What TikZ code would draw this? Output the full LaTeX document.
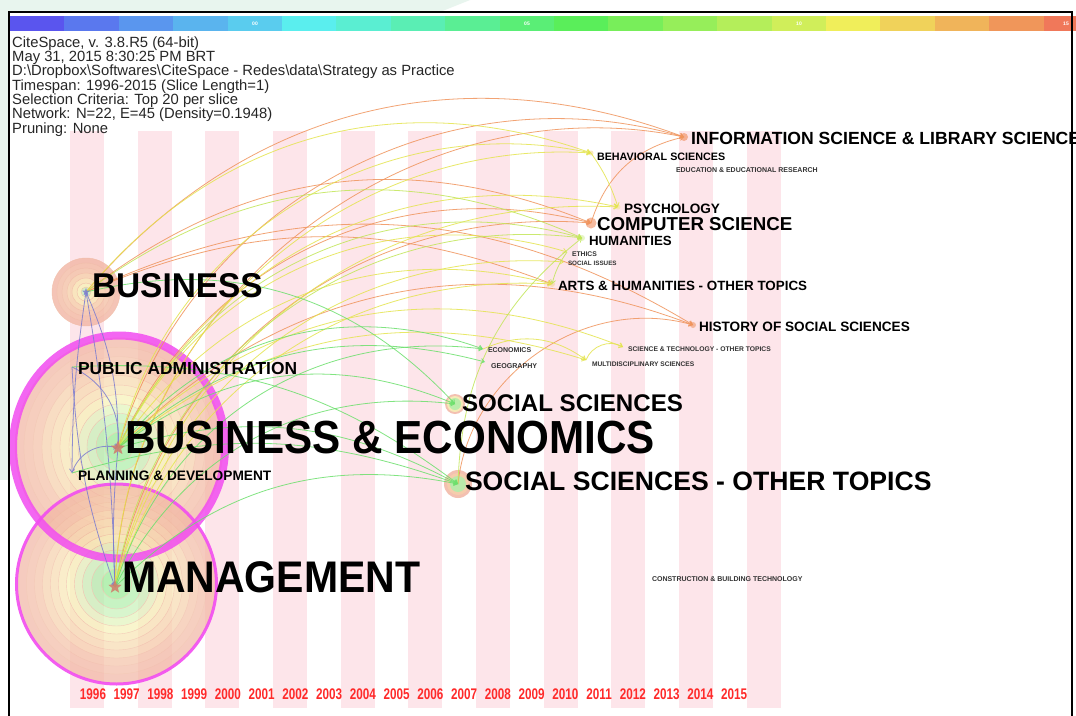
\documentclass[tikz,border=0pt]{standalone}
\usepackage{fontspec}
\usepackage{graphicx}
\setmainfont{Liberation Sans}
\newfontfamily\yearfont{Liberation Sans}[FakeStretch=0.76]
\usetikzlibrary{shapes.geometric,arrows.meta}
\definecolor{stripe}{HTML}{FDE5EA}
\definecolor{mint}{HTML}{E8F5EE}
\definecolor{eor}{HTML}{F0945C}
\definecolor{eye}{HTML}{E4E44E}
\definecolor{eyg}{HTML}{C2E658}
\definecolor{egr}{HTML}{6CE06C}
\definecolor{epu}{HTML}{7C7CD0}
\definecolor{mag}{HTML}{F24CF0}
\definecolor{starc}{HTML}{D07A6A}
\definecolor{yrc}{HTML}{FF2A2A}
\definecolor{ra}{HTML}{F2B6A4}
\definecolor{rb}{HTML}{F3BCA6}
\definecolor{rc}{HTML}{F4C2A8}
\definecolor{rd}{HTML}{F5C8AA}
\definecolor{re}{HTML}{F6D0AC}
\definecolor{rf}{HTML}{F7DAB0}
\definecolor{rg}{HTML}{F8E6B4}
\definecolor{rh}{HTML}{F7F2B8}
\definecolor{ri}{HTML}{E2F4BC}
\definecolor{rj}{HTML}{C8F2B8}
\definecolor{rk}{HTML}{B0EEAA}
\definecolor{rl}{HTML}{98EA94}
\definecolor{rcs}{HTML}{F4B090}
\definecolor{ris}{HTML}{F4A684}
\definecolor{rline}{HTML}{EFB49A}
\tikzset{
  lbl/.style={anchor=base west, inner sep=0pt, outer sep=0pt, text=black},
  tinylbl/.style={lbl, text=black!80},
  hdrline/.style={anchor=base west, inner sep=0pt, text=black!85, font=\fontsize{14.8}{15}\selectfont},
  edge/.style={line width=0.8pt, -{Straight Barb[length=3.5pt,width=5pt]}, opacity=0.85},
  eo/.style={edge, draw=eor},
  ey/.style={edge, draw=eye},
  eg/.style={edge, draw=eyg},
  en/.style={edge, draw=egr},
  ep/.style={edge, draw=epu},
  yrlbl/.style={anchor=base, inner sep=0pt, text=yrc, font=\yearfont\bfseries\fontsize{15.4}{16}\selectfont},
  nstar/.style={star, star points=5, star point ratio=2.3, inner sep=0pt, fill=starc, fill opacity=0.85, draw=none},
  ringline/.style={draw=rline, line width=0.4pt},
}
\begin{document}
\begin{tikzpicture}[x=1pt,y=-1pt]
\useasboundingbox (0,0) rectangle (1076,715);
\clip (0,0) rectangle (1076,715);
\fill[white] (0,0) rectangle (1076,715);
% outside tint
\fill[mint] (0,0) -- (470,0) -- (440,12) -- (0,12) -- cycle;
\fill[mint] (0,0) rectangle (9,480);
% colour bar
\foreach \h [count=\i from 0] in {5A55EE,5A78EE,5A96EE,5AB4EE,5ACCEE,5AEEEE,5AEED2,5AEEB4,5AEE94,5AEE76,5AEE5A,78EE5A,96EE5A,B4EE5A,D0EE5A,F0EE5A,F0D25A,F0B45A,F0965A,F0785A}{
  \definecolor{tmpc}{HTML}{\h}
  \fill[tmpc] ({10+54.4*\i},16) rectangle ({64.4+54.4*\i},30.5);
}
\foreach \t/\xx [count=\j] in {00/255,05/527,10/799,15/1066}
  \node[name=cbl\j, font=\bfseries\fontsize{5}{5}\selectfont, text=white, inner sep=0pt] at (\xx,23.5) {\t};
% stripes
\foreach \k in {0,...,10}
  \fill[stripe] ({70+67.65*\k},131) rectangle ++(34,577);
% header text
\node[hdrline, name=hdr1] at (12,47) {CiteSpace, v. 3.8.R5 (64-bit)};
\node[hdrline, name=hdr2] at (12,61.3) {May 31, 2015 8:30:25 PM BRT};
\node[hdrline, name=hdr3] at (12,75.7) {D:\textbackslash Dropbox\textbackslash Softwares\textbackslash CiteSpace - Redes\textbackslash data\textbackslash Strategy as Practice};
\node[hdrline, name=hdr4] at (12,90) {Timespan: 1996-2015 (Slice Length=1)};
\node[hdrline, name=hdr5] at (12,104.3) {Selection Criteria: Top 20 per slice};
\node[hdrline, name=hdr6] at (12,118.7) {Network: N=22, E=45 (Density=0.1948)};
\node[hdrline, name=hdr7] at (12,133) {Pruning: None};
% node coordinates
\coordinate (bus) at (86,292);
\coordinate (be) at (118,448);
\coordinate (bec) at (119,447);
\coordinate (mgt) at (115,587);
\coordinate (mgtc) at (116.5,584);
\coordinate (pa) at (72,367);
\coordinate (pd) at (72,473);
\coordinate (ss) at (455,404);
\coordinate (sso) at (458,484);
\coordinate (eco) at (483,349);
\coordinate (geo) at (485,362);
\coordinate (is) at (684,137);
\coordinate (beh) at (591,153);
\coordinate (edu) at (672,167);
\coordinate (psy) at (618,207);
\coordinate (cs) at (591,223);
\coordinate (hum) at (582,238);
\coordinate (eth) at (567,252);
\coordinate (soc) at (564,262);
\coordinate (arts) at (552,284);
\coordinate (hist) at (693,325);
\coordinate (st) at (623,347);
\coordinate (multi) at (586,360);
\coordinate (cons) at (648,573);
% tree rings: Business & Economics
\begin{scope}[opacity=0.72, transparency group]
\foreach \r/\c in {104/ra,95/rb,86/rc,77/re,68/rf,59/rg,50/rh,41/ri,32/rj,23/rk,14/rl}
  \filldraw[fill=\c, ringline] (bec) ellipse ({\r} and {\r*1.05});
\end{scope}
% tree rings: Management
\begin{scope}[opacity=0.7, transparency group]
\foreach \r/\c in {99/ra,90/rb,82/rc,74/re,66/rf,58/rg,50/rh,42/ri,34/rj,25/rk,15/rl}
  \filldraw[fill=\c, ringline] (mgtc) circle (\r);
\end{scope}
\draw[mag, line width=8pt, opacity=0.85] (bec) ellipse (106 and 111.5);
\draw[mag, line width=3pt, opacity=0.9] (mgtc) circle (100);
% Business rings
\begin{scope}[opacity=0.8, transparency group]
\foreach \r/\c in {34/ra,29/rb,24/rc,19/re,14/rg,9/rh,5/rj}
  \filldraw[fill=\c, ringline] (bus) circle (\r);
\end{scope}
% small node rings
\begin{scope}[opacity=0.85]
\fill[ra] (ss) circle (10); \fill[rh] (ss) circle (8); \fill[rk] (ss) circle (6);
\fill[ra] (sso) circle (14); \fill[re] (sso) circle (11); \fill[rk] (sso) circle (8);
\fill[rcs] (cs) circle (5.5);
\fill[ris] (is) circle (4);
\fill[rcs] (hist) circle (3);
\fill[rf] (arts) circle (3);
\fill[ri] (hum) circle (3);
\fill[rg] (psy) circle (2.5);
\fill[rg] (beh) circle (2.5);
\end{scope}
% ---- edges ----
% purple (local)
\draw[ep] (bus) to[bend right=4] (pd);
\draw[ep] (bus) to[bend left=4] (mgt);
\draw[ep] (bus) to[bend left=12] (be);
\draw[ep] (pa) to[bend left=35] (be);
\draw[ep] (pd) to[bend left=45] (be);
\draw[ep] (pa) to[bend right=8] (mgt);
\draw[ep] (be) to[bend right=4] (mgt);
% orange
\draw[eo] (bus) to[bend left=35] (is);
\draw[eo] (be) to[bend left=45] (is);
\draw[eo] (mgt) to[bend left=50] (is);
\draw[eo] (bus) to[bend left=30] (cs);
\draw[eo] (be) to[bend left=40] (cs);
\draw[eo] (mgt) to[bend left=42] (cs);
\draw[eo] (bus) to[bend left=28] (hist);
\draw[eo] (be) to[bend left=33] (hist);
\draw[eo] (cs) to[bend left=30] (is);
\draw[eo] (sso) to[bend left=50] (hist);
\draw[eo] (bus) to[bend left=22] (arts);
% yellow
\draw[ey] (bus) to[bend left=35] (beh);
\draw[ey] (be) to[bend left=44] (beh);
\draw[ey] (mgt) to[bend left=46] (beh);
\draw[ey] (be) to[bend left=38] (psy);
\draw[ey] (mgt) to[bend left=40] (psy);
\draw[ey] (beh) to[bend left=8] (psy);
\draw[ey] (be) to[bend left=40] (eth);
\draw[ey] (mgt) to[bend left=40] (soc);
\draw[ey] (be) to[bend left=35] (arts);
\draw[ey] (mgt) to[bend left=38] (arts);
\draw[ey] (be) to[bend left=28] (multi);
\draw[ey] (be) to[bend left=33] (st);
\draw[ey] (eco) to[bend left=30] (multi);
\draw[ey] (multi) to[bend left=50] (st);
% yellow-green
\draw[eg] (bus) to[bend left=30] (hum);
\draw[eg] (be) to[bend left=40] (hum);
\draw[eg] (mgt) to[bend left=44] (hum);
\draw[eg] (sso) to[bend left=25] (hum);
\draw[eg] (eth) to[bend right=10] (arts);
% green
\draw[en] (be) to[bend left=35] (eco);
\draw[en] (mgt) to[bend left=40] (eco);
\draw[en] (be) to[bend left=28] (geo);
\draw[en] (bus) to[bend left=30] (ss);
\draw[en] (be) to[bend left=30] (ss);
\draw[en] (mgt) to[bend left=35] (ss);
\draw[en] (be) to[bend left=22] (sso);
\draw[en] (mgt) to[bend left=28] (sso);
\draw[en] (pa) to[bend left=20] (sso);
\draw[en] (pd) to[bend left=18] (sso);
% stars
\node[nstar, minimum size=15pt, name=be-star] at (be) {};
\node[nstar, minimum size=14pt, name=mgt-star] at (mgt) {};
\node[nstar, minimum size=8pt, fill=epu, name=bus-star] at (bus) {};
% ---- labels ----
\node[lbl, name=bus-l, font=\bfseries\fontsize{33.4}{34}\selectfont] at (92,297) {\scalebox{1}[1.03]{BUSINESS}};
\node[lbl, name=be-l, font=\bfseries\fontsize{42.2}{44}\selectfont] at (125,453) {\scalebox{1}[1.1]{BUSINESS \& ECONOMICS}};
\node[lbl, name=mgt-l, font=\bfseries\fontsize{41}{42}\selectfont] at (122,592) {\scalebox{1}[1.08]{MANAGEMENT}};
\node[lbl, name=pa-l, font=\bfseries\fontsize{17.4}{18}\selectfont] at (78,374) {PUBLIC ADMINISTRATION};
\node[lbl, name=pd-l, font=\bfseries\fontsize{13.7}{14}\selectfont] at (78,480) {PLANNING \& DEVELOPMENT};
\node[lbl, name=ss-l, font=\bfseries\fontsize{24.1}{25}\selectfont] at (462,411) {SOCIAL SCIENCES};
\node[lbl, name=sso-l, font=\bfseries\fontsize{26.6}{27}\selectfont] at (465,490) {SOCIAL SCIENCES - OTHER TOPICS};
\node[lbl, name=is-l, font=\bfseries\fontsize{17.6}{18}\selectfont] at (691,144) {INFORMATION SCIENCE \& LIBRARY SCIENCE};
\node[lbl, name=beh-l, font=\bfseries\fontsize{10.75}{11}\selectfont] at (597,160) {BEHAVIORAL SCIENCES};
\node[tinylbl, name=edu-l, font=\bfseries\fontsize{7}{7}\selectfont] at (676,172) {EDUCATION \& EDUCATIONAL RESEARCH};
\node[lbl, name=psy-l, font=\bfseries\fontsize{13.6}{14}\selectfont] at (624,213) {PSYCHOLOGY};
\node[lbl, name=cs-l, font=\bfseries\fontsize{18.7}{19}\selectfont] at (597,230) {COMPUTER SCIENCE};
\node[lbl, name=hum-l, font=\bfseries\fontsize{13.3}{14}\selectfont] at (589,245) {HUMANITIES};
\node[tinylbl, name=eth-l, font=\bfseries\fontsize{6.8}{7}\selectfont] at (572,256) {ETHICS};
\node[tinylbl, name=soc-l, font=\bfseries\fontsize{6.3}{7}\selectfont] at (568,265) {SOCIAL ISSUES};
\node[lbl, name=arts-l, font=\bfseries\fontsize{13.4}{14}\selectfont] at (558,290) {ARTS \& HUMANITIES - OTHER TOPICS};
\node[lbl, name=hist-l, font=\bfseries\fontsize{13.6}{14}\selectfont] at (699,331) {HISTORY OF SOCIAL SCIENCES};
\node[tinylbl, name=eco-l, font=\bfseries\fontsize{7}{7}\selectfont] at (488,352) {ECONOMICS};
\node[tinylbl, name=geo-l, font=\bfseries\fontsize{7.1}{7}\selectfont] at (491,368) {GEOGRAPHY};
\node[tinylbl, name=st-l, font=\bfseries\fontsize{6.75}{7}\selectfont] at (628,351) {SCIENCE \& TECHNOLOGY - OTHER TOPICS};
\node[tinylbl, name=multi-l, font=\bfseries\fontsize{6.65}{7}\selectfont] at (592,366) {MULTIDISCIPLINARY SCIENCES};
\node[tinylbl, name=cons-l, font=\bfseries\fontsize{7}{7}\selectfont] at (652,581) {CONSTRUCTION \& BUILDING TECHNOLOGY};
% years
\foreach \i in {0,...,19}
  \node[yrlbl, name=yr\i] at ({93+33.74*\i},699) {\the\numexpr1996+\i\relax};
% frame
\draw[line width=1.5pt] (9,740) -- (9,12) -- (1072,12) -- (1072,740);
\end{tikzpicture}
\end{document}
